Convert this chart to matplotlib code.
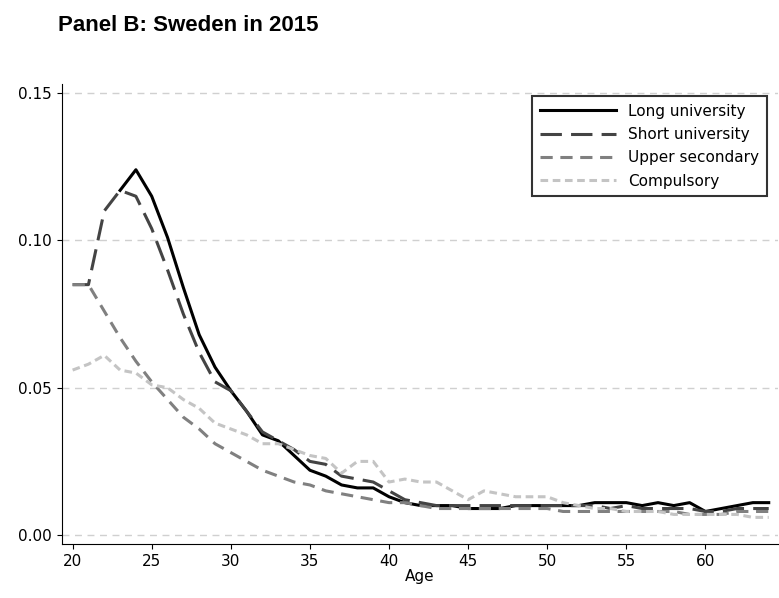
import matplotlib
matplotlib.use("Agg")
import matplotlib.pyplot as plt
import numpy as np

ages_long = list(range(23, 65))
long_uni = [0.117,0.124,0.115,0.101,0.084,0.068,0.057,0.049,0.042,0.034,0.032,0.027,0.022,0.020,0.017,0.016,0.016,0.013,0.011,0.010,0.010,0.010,0.009,0.009,0.009,0.010,0.010,0.010,0.010,0.010,0.011,0.011,0.011,0.010,0.011,0.010,0.011,0.008,0.009,0.010,0.011,0.011]
ages = list(range(20, 65))
short_uni = [0.085,0.085,0.110,0.117,0.115,0.104,0.090,0.075,0.062,0.052,0.049,0.042,0.035,0.032,0.029,0.025,0.024,0.020,0.019,0.018,0.015,0.012,0.011,0.010,0.010,0.010,0.010,0.010,0.010,0.010,0.010,0.010,0.010,0.010,0.009,0.010,0.009,0.009,0.009,0.009,0.008,0.008,0.009,0.009,0.009]
upper_sec = [0.085,0.085,0.076,0.067,0.059,0.052,0.046,0.040,0.036,0.031,0.028,0.025,0.022,0.020,0.018,0.017,0.015,0.014,0.013,0.012,0.011,0.011,0.010,0.009,0.009,0.009,0.009,0.009,0.009,0.009,0.009,0.008,0.008,0.008,0.008,0.008,0.008,0.008,0.008,0.007,0.007,0.007,0.008,0.008,0.008]
compulsory = [0.056,0.058,0.061,0.056,0.055,0.051,0.050,0.046,0.043,0.038,0.036,0.034,0.031,0.031,0.029,0.027,0.026,0.021,0.025,0.025,0.018,0.019,0.018,0.018,0.015,0.012,0.015,0.014,0.013,0.013,0.013,0.011,0.010,0.009,0.009,0.008,0.008,0.008,0.007,0.007,0.007,0.007,0.007,0.006,0.006]

fig = plt.figure(figsize=(7.79, 5.98), dpi=100)
ax = fig.add_axes([0.079, 0.09, 0.92, 0.77])
ax.plot(ages_long, long_uni, color="black", lw=2.2, label="Long university")
ax.plot(ages, short_uni, color="#444444", lw=2.2, dashes=(7, 3), label="Short university")
ax.plot(ages, upper_sec, color="#808080", lw=2.2, dashes=(4, 2.5), label="Upper secondary")
ax.plot(ages, compulsory, color="#c4c4c4", lw=2.2, dashes=(2.5, 1.5), label="Compulsory")
ax.set_xlim(19.3, 64.6)
ax.set_ylim(-0.0031, 0.1532)
ax.set_xticks(range(20, 65, 5))
ax.set_yticks([0, 0.05, 0.10, 0.15])
ax.set_yticklabels(["0.00", "0.05", "0.10", "0.15"])
ax.yaxis.grid(True, color="#d0d0d0", ls=(0, (5, 4)), lw=1)
ax.set_axisbelow(True)
for s in ["top", "right"]:
    ax.spines[s].set_visible(False)
ax.tick_params(labelsize=11)
ax.set_xlabel("Age", fontsize=11, labelpad=0)
leg = ax.legend(loc="upper right", bbox_to_anchor=(0.995, 0.99), fontsize=11, frameon=True, fancybox=False,
                edgecolor="black", handlelength=5, labelspacing=0.55, borderpad=0.5)
leg.get_frame().set_linewidth(1.5)
fig.text(0.075, 0.948, "Panel B: Sweden in 2015", fontsize=16, fontweight="bold", family="Liberation Sans")
fig.savefig("out.png", dpi=100)
